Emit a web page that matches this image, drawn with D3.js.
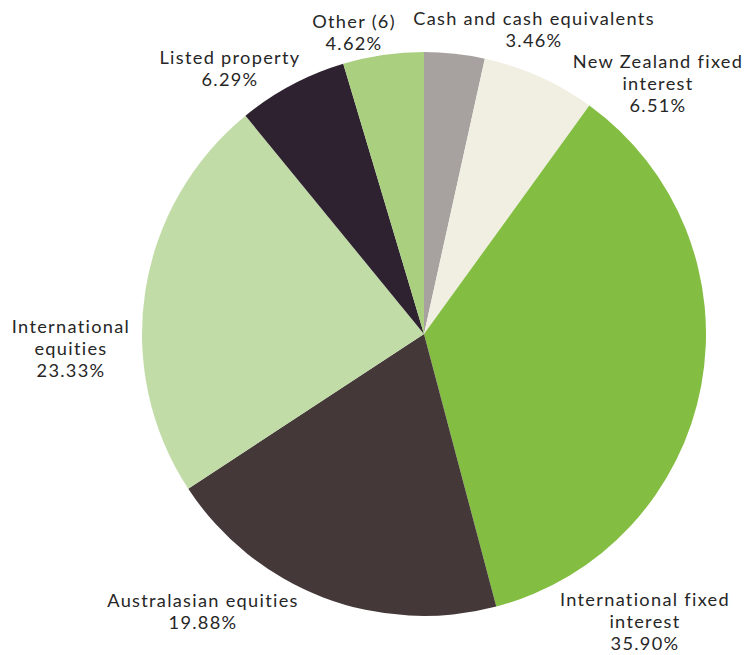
<html>
  <body style="margin:0;background:#fff">
    <script src="https://d3js.org/d3.v7.min.js"></script>
    <div id="chart"></div>
    <script>
      // slice order is clockwise from 12 o'clock
      const categories = [
        'Cash and cash equivalents',
        'New Zealand fixed interest',
        'International fixed interest',
        'Australasian equities',
        'International equities',
        'Listed property',
        'Other (6)'
      ];
      const values = [3.46, 6.51, 35.90, 19.88, 23.33, 6.29, 4.62];
      const labelLines = [
        ['Cash and cash equivalents'],
        ['New Zealand fixed', 'interest'],
        ['International fixed', 'interest'],
        ['Australasian equities'],
        ['International', 'equities'],
        ['Listed property'],
        ['Other (6)']
      ];

      const colors = ['#a7a2a0', '#f1eee2', '#83bd41', '#443938', '#c2dca8', '#2e2230', '#a9cf7f'];

      // hand placed label anchors (first baseline), relative to pie centre
      const labelOffset = [
        [110, -309],
        [234, -266],
        [221, 272],
        [-221, 273],
        [-353, -1],
        [-194, -270],
        [-70, -306]
      ];

      const width = 746, height = 655;
      const cx = 424, cy = 334, radius = 282;
      const lineHeight = 22;

      const svg = d3.select('#chart')
        .append('svg')
        .attr('width', width)
        .attr('height', height);

      const pie = d3.pie().sort(null).value(d => d.value);
      const arc = d3.arc().innerRadius(0).outerRadius(radius);

      const data = categories.map((c, i) => ({
        name: c,
        value: values[i],
        lines: labelLines[i],
        color: colors[i],
        offset: labelOffset[i]
      }));

      const g = svg.append('g').attr('transform', `translate(${cx},${cy})`);

      g.selectAll('path.slice')
        .data(pie(data))
        .join('path')
        .attr('class', 'slice')
        .attr('d', arc)
        .attr('fill', d => d.data.color);

      const labels = g.selectAll('text.label')
        .data(pie(data))
        .join('text')
        .attr('class', 'label')
        .attr('text-anchor', 'middle')
        .attr('font-family', 'Lato, sans-serif')
        .attr('font-size', 18.2)
        .attr('letter-spacing', 1.3)
        .attr('fill', '#262626')
        .attr('transform', d => `translate(${d.data.offset[0]},${d.data.offset[1]})`);

      labels.each(function (d) {
        const t = d3.select(this);
        const lines = d.data.lines.concat([d3.format('.2f')(d.data.value) + '%']);
        lines.forEach((l, i) => {
          t.append('tspan').attr('x', 0).attr('y', i * lineHeight).text(l);
        });
      });
    </script>
  </body>
</html>
